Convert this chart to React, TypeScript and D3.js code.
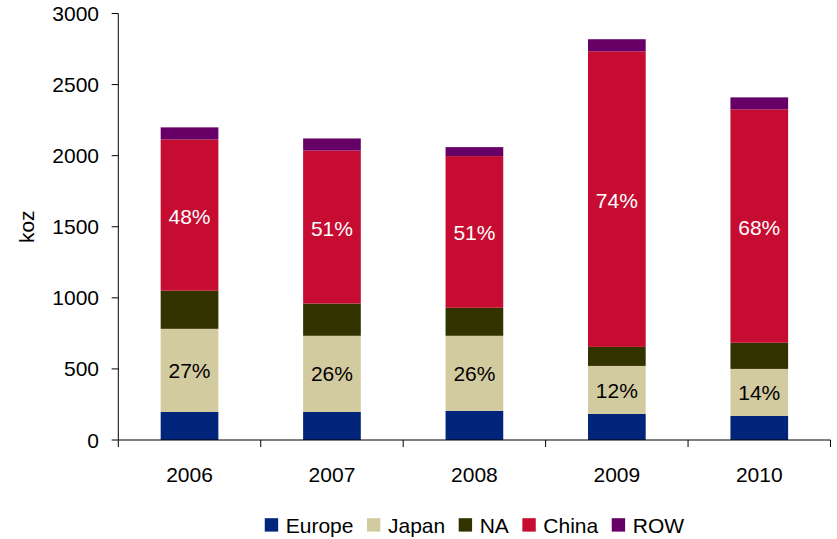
import React from "react";
import * as d3 from "d3";

const years = ["2006", "2007", "2008", "2009", "2010"];
const seriesNames = ["Europe", "Japan", "NA", "China", "ROW"];
const europe = [197, 197, 204, 183, 169];
const japan = [585, 536, 529, 338, 331];
const na = [268, 227, 197, 134, 184];
const china = [1064, 1076, 1067, 2079, 1642];
const row = [85, 85, 63, 85, 84];
const chinaPct = [48, 51, 51, 74, 68];
const japanPct = [27, 26, 26, 12, 14];
const yTicks = [0, 500, 1000, 1500, 2000, 2500, 3000];

const colors = ["#00257A", "#D3CBA0", "#333300", "#C60C30", "#660066"];
const FONT = "'Liberation Sans', Arial, sans-serif";

function measure(text: string, size: number): number {
  try {
    const c = document.createElement("canvas");
    const ctx = c.getContext("2d");
    if (ctx) {
      ctx.font = `${size}px 'Liberation Sans', Arial, sans-serif`;
      return ctx.measureText(text).width;
    }
  } catch (e) {}
  return text.length * size * 0.55;
}

export default function App() {
  const W = 837;
  const H = 539;
  const x0 = 118.3;
  const x1 = 830.5;
  const yBottom = 440;
  const yTop = 13.5;

  const x = d3.scaleBand<string>().domain(years).range([x0, x1]).padding(0);
  const y = d3.scaleLinear().domain([0, 3000]).range([yBottom, yTop]);
  const barW = x.bandwidth() * 0.405;

  const table = years.map((yr, i) => ({
    year: yr,
    Europe: europe[i],
    Japan: japan[i],
    NA: na[i],
    China: china[i],
    ROW: row[i],
  }));
  const stack = d3.stack<any>().keys(seriesNames)(table);

  const fs = 21;
  const legendFs = 21;
  const sq = 13.4;
  const sqGap = 7.6;
  const itemGap = 13.5;
  const widths = seriesNames.map((n) => measure(n, legendFs));
  const totalW =
    widths.reduce((a, b) => a + b, 0) +
    seriesNames.length * (sq + sqGap) +
    (seriesNames.length - 1) * itemGap;
  let lx = (x0 + x1) / 2 - totalW / 2;
  const legendItems = seriesNames.map((n, i) => {
    const item = { name: n, x: lx, color: colors[i] };
    lx += sq + sqGap + widths[i] + itemGap;
    return item;
  });

  const boundaries = [...years.map((yr) => x(yr) as number), x1];

  return (
    <svg
      width={W}
      height={H}
      style={{ position: "absolute", left: 0, top: 0, background: "#fff" }}
      fontFamily={FONT}
    >
      <rect x={0} y={0} width={W} height={H} fill="#fff" />
      {stack.map((layer, si) =>
        layer.map((d, i) => {
          const cx = (x(years[i]) as number) + x.bandwidth() / 2;
          return (
            <rect
              key={`${si}-${i}`}
              x={cx - barW / 2}
              y={y(d[1])}
              width={barW}
              height={y(d[0]) - y(d[1])}
              fill={colors[si]}
            />
          );
        })
      )}
      {years.map((yr, i) => {
        const cx = (x(yr) as number) + x.bandwidth() / 2;
        const jLayer = stack[1][i];
        const cLayer = stack[3][i];
        return (
          <g key={yr}>
            <text
              x={cx}
              y={(y(cLayer[0]) + y(cLayer[1])) / 2 + 3}
              fill="#fff"
              fontSize={fs}
              textAnchor="middle"
              dominantBaseline="middle"
            >
              {chinaPct[i]}%
            </text>
            <text
              x={cx}
              y={(y(jLayer[0]) + y(jLayer[1])) / 2 + 2}
              fill="#000"
              fontSize={fs}
              textAnchor="middle"
              dominantBaseline="middle"
            >
              {japanPct[i]}%
            </text>
            <text
              x={cx}
              y={482.3}
              fill="#000"
              fontSize={fs}
              textAnchor="middle"
            >
              {yr}
            </text>
          </g>
        );
      })}
      {/* axes */}
      <line x1={x0} x2={x0} y1={yTop} y2={yBottom} stroke="#000" strokeWidth={1} />
      <line x1={x0} x2={x1} y1={yBottom} y2={yBottom} stroke="#000" strokeWidth={1} />
      {boundaries.map((bx, i) => (
        <line key={i} x1={bx} x2={bx} y1={yBottom} y2={yBottom + 7} stroke="#000" strokeWidth={1} />
      ))}
      {yTicks.map((t) => (
        <g key={t}>
          <line x1={x0 - 6.6} x2={x0} y1={y(t)} y2={y(t)} stroke="#000" strokeWidth={1} />
          <text
            x={99}
            y={y(t) + 7.5}
            fontSize={fs}
            textAnchor="end"
            fill="#000"
          >
            {t}
          </text>
        </g>
      ))}
      <text
        transform={`translate(34,${(yTop + yBottom) / 2}) rotate(-90)`}
        fontSize={fs}
        textAnchor="middle"
        fill="#000"
      >
        koz
      </text>
      {legendItems.map((it) => (
        <g key={it.name}>
          <rect x={it.x} y={518.2} width={sq} height={sq} fill={it.color} />
          <text x={it.x + sq + sqGap} y={533.3} fontSize={legendFs} fill="#000">
            {it.name}
          </text>
        </g>
      ))}
    </svg>
  );
}
